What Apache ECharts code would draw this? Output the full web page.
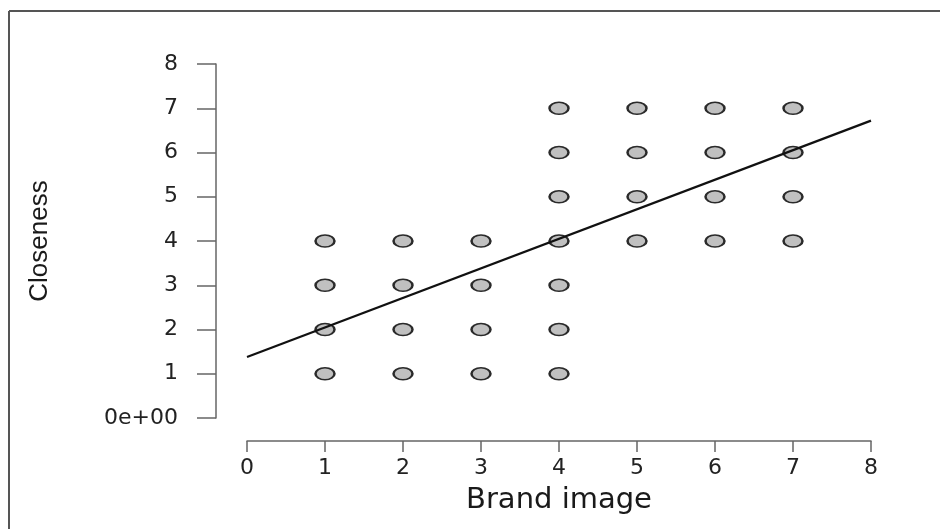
<!DOCTYPE html>
<html><head><meta charset="utf-8">
<script src="https://cdn.jsdelivr.net/npm/echarts@6/dist/echarts.min.js"></script>
<style>html,body{margin:0;padding:0;background:#fff}#c{width:940px;height:529px}</style>
</head><body><div id="c"></div>
<script>
// Brand image (x) vs Closeness (y)
var brandImage = [1,1,1,1, 2,2,2,2, 3,3,3,3, 4,4,4,4,4,4,4, 5,5,5,5, 6,6,6,6, 7,7,7,7];
var closeness  = [1,2,3,4, 1,2,3,4, 1,2,3,4, 1,2,3,4,5,6,7, 4,5,6,7, 4,5,6,7, 4,5,6,7];
var fitX = [0, 8];
var fitY = [1.38, 6.72];
var xTickLabels = ['0','1','2','3','4','5','6','7','8'];
var yTickLabels = ['0e+00','1','2','3','4','5','6','7','8'];
var xTitle = 'Brand image';
var yTitle = 'Closeness';

var pts = brandImage.map(function(x,i){ return [x, closeness[i]]; });
var fit = fitX.map(function(x,i){ return [x, fitY[i]]; });

var chart = echarts.init(document.getElementById('c'));
var labelFont = 'DejaVu Sans';
chart.setOption({
  animation: false,
  backgroundColor: '#fff',
  grid: { left: 247, right: 69, top: 64, bottom: 111 },
  xAxis: {
    type: 'value', min: 0, max: 8, interval: 1, offset: 23,
    name: xTitle, nameLocation: 'middle', nameGap: 45,
    nameTextStyle: { fontFamily: labelFont, fontSize: 29, color: '#1a1a1a' },
    axisLine: { show: true, onZero: false, lineStyle: { color: '#666', width: 1.5 } },
    axisTick: { show: true, length: 11, lineStyle: { color: '#666', width: 1.5 } },
    axisLabel: { margin: 16, fontFamily: labelFont, fontSize: 22, color: '#222',
      formatter: function(v){ return xTickLabels[Math.round(v)]; } },
    splitLine: { show: false }
  },
  yAxis: {
    type: 'value', min: 0, max: 8, interval: 1, offset: 31,
    name: yTitle, nameLocation: 'middle', nameGap: 163,
    nameTextStyle: { fontFamily: 'Liberation Sans', fontSize: 26, color: '#1a1a1a' },
    axisLine: { show: true, onZero: false, lineStyle: { color: '#666', width: 1.5 } },
    axisTick: { show: true, length: 19, lineStyle: { color: '#666', width: 1.5 } },
    axisLabel: { margin: 38, fontFamily: labelFont, fontSize: 22, color: '#222',
      formatter: function(v){ return yTickLabels[Math.round(v)]; } },
    splitLine: { show: false }
  },
  graphic: [
    { type: 'line', shape: { x1: 9, y1: 11, x2: 940, y2: 11 }, style: { stroke: '#555', lineWidth: 2 } },
    { type: 'line', shape: { x1: 9, y1: 11, x2: 9, y2: 529 }, style: { stroke: '#555', lineWidth: 2 } }
  ],
  series: [
    { type: 'scatter', data: pts, symbol: 'circle', symbolSize: [19, 12], z: 2,
      itemStyle: { color: '#c0c0c0', borderColor: '#2a2a2a', borderWidth: 2, opacity: 1 } },
    { type: 'line', data: fit, showSymbol: false, symbol: 'none', z: 3,
      lineStyle: { color: '#111', width: 2.2 } }
  ]
});
</script></body></html>
